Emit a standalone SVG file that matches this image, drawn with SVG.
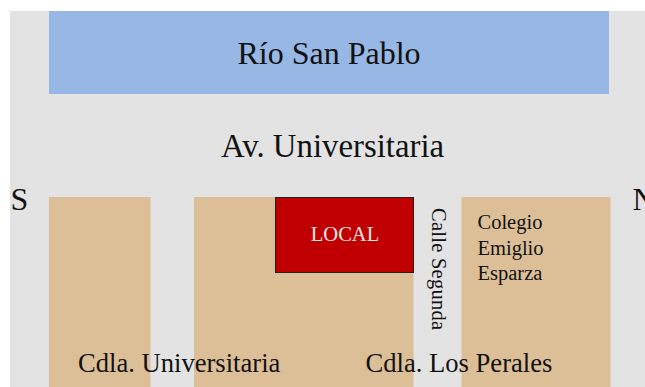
<svg xmlns="http://www.w3.org/2000/svg" width="645" height="387" viewBox="0 0 645 387">
<style>
text{font-family:"Liberation Serif","Times New Roman",serif;fill:#111}
.b{fill:#dcbf96}
.xl{font-size:32px}
.l{font-size:26.600px}
.m{font-size:20.500px}
.c{text-anchor:middle}
</style>
<rect width="645" height="387" fill="#fff"/>
<rect x="10" y="11" width="635" height="376" fill="#e3e3e3"/>
<g id="river"><rect x="49" y="11" width="560" height="83" fill="#97b7e5"/><text class="c xl" x="329" y="64">Río San Pablo</text></g>
<g id="avenue"><text class="c" x="332.500" y="157" style="font-size:32.800px">Av. Universitaria</text></g>
<g id="south"><text class="xl" x="10.500" y="210">S</text></g>
<g id="north"><text class="xl" x="632.500" y="210">N</text></g>
<g id="block1"><rect class="b" x="49" y="197" width="101.500" height="190"/></g>
<g id="block2"><rect class="b" x="194" y="197" width="219.500" height="190"/></g>
<g id="block3"><rect class="b" x="461.500" y="197" width="149" height="190"/></g>
<g id="local"><rect x="275.500" y="197.500" width="138" height="75" fill="#c00000" stroke="#222" stroke-width="1"/><text class="c m" x="345" y="241" style="fill:#f4e6e6">LOCAL</text></g>
<g id="calle"><text transform="translate(431.500 208) rotate(90)" style="font-size:20.500px" textLength="122">Calle Segunda</text></g>
<g id="colegio"><text class="m" x="477.500" y="229">Colegio</text><text class="m" x="477.500" y="254.500">Emiglio</text><text class="m" x="477.500" y="280">Esparza</text></g>
<g id="cdla1"><text class="l" x="78" y="372">Cdla. Universitaria</text></g>
<g id="cdla2"><text class="l" x="365.500" y="372">Cdla. Los Perales</text></g>
<g id="connectors"/>
</svg>
